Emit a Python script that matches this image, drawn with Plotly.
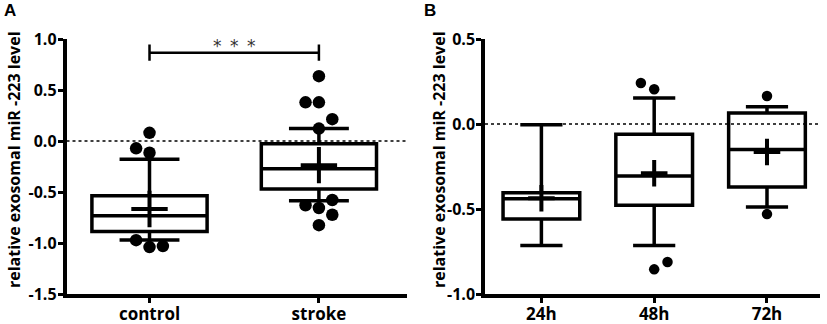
import plotly.graph_objects as go

# ---------------- data ----------------
# Panel A
a_categories = ["control", "stroke"]
a_q1 = [-0.888, -0.470]
a_median = [-0.733, -0.273]
a_q3 = [-0.536, -0.026]
a_lower = [-0.970, -0.585]
a_upper = [-0.180, 0.122]
a_mean = [-0.667, -0.237]
a_pts_cat = [0, 0, 0, 0, 0, 0, 1, 1, 1, 1, 1, 1, 1, 1, 1, 1]
a_pts_val = [0.080, -0.072, -0.115, -0.972, -1.040, -1.030,
             0.636, 0.379, 0.379, 0.214, 0.122, -0.630, -0.657, -0.578, -0.723, -0.825]
a_pts_col = [0, -1, 0, -1, 0, 1,
             0, -1, 0, 1, 0, -1, 0, 1, 1, 0]
a_yticks = [1.0, 0.5, 0.0, -0.5, -1.0, -1.5]
a_sig_text = "* * *"

# Panel B
b_categories = ["24h", "48h", "72h"]
b_q1 = [-0.559, -0.478, -0.370]
b_median = [-0.440, -0.306, -0.150]
b_q3 = [-0.404, -0.061, 0.064]
b_lower = [-0.714, -0.714, -0.488]
b_upper = [-0.004, 0.153, 0.102]
b_mean = [-0.437, -0.290, -0.165]
b_pts_cat = [1, 1, 1, 1, 2, 2]
b_pts_val = [0.241, 0.204, -0.855, -0.812, 0.165, -0.530]
b_pts_col = [-1, 0, 0, 1, 0, 0]
b_yticks = [0.5, 0.0, -0.5, -1.0]

y_title = "relative exosomal miR -223 level"

# ---------------- styling ----------------
FONT = "Open Sans"
LW = 3.5
W, H = 827, 324
top_px, bot_px = 39, 294
ydom = [1 - bot_px / H, 1 - top_px / H]
xdomA = [66.5 / W, 407 / W]
xdomB = [485 / W, 820 / W]

fig = go.Figure()


def add_panel(xa, ya, q1, med, q3, lo, up, mean, pc, pv, pcol, dx, plus_size, dot_size, bw, ww):
    n = len(q1)
    fig.add_trace(go.Box(
        x=list(range(n)), q1=q1, median=med, q3=q3, lowerfence=lo, upperfence=up,
        width=bw, whiskerwidth=ww, fillcolor="rgba(255,255,255,0)",
        line=dict(color="black", width=LW), boxpoints=False, showlegend=False,
        xaxis=xa, yaxis=ya, hoverinfo="skip"))
    fig.add_trace(go.Scatter(
        x=list(range(n)), y=mean, mode="markers", showlegend=False,
        marker=dict(symbol="cross-thin", size=plus_size, color="black",
                    line=dict(color="black", width=LW + 0.5)),
        xaxis=xa, yaxis=ya, hoverinfo="skip"))
    fig.add_trace(go.Scatter(
        x=[c + k * dx for c, k in zip(pc, pcol)], y=pv, mode="markers", showlegend=False,
        marker=dict(symbol="circle", size=dot_size, color="black"),
        xaxis=xa, yaxis=ya, hoverinfo="skip"))


add_panel("x", "y", a_q1, a_median, a_q3, a_lower, a_upper, a_mean,
          a_pts_cat, a_pts_val, a_pts_col, 0.079, 26, 12.5, 0.68, 0.52)
add_panel("x2", "y2", b_q1, b_median, b_q3, b_lower, b_upper, b_mean,
          b_pts_cat, b_pts_val, b_pts_col, 0.118, 19, 10.5, 0.68, 0.55)

# significance bracket (panel A)
sig_level = 0.866
sig_cap = 0.08
fig.add_trace(go.Scatter(
    x=[0, 0, None, 0, 1, None, 1, 1],
    y=[sig_level - sig_cap, sig_level + sig_cap, None, sig_level, sig_level, None,
       sig_level - sig_cap, sig_level + sig_cap],
    mode="lines", line=dict(color="black", width=2.5), showlegend=False,
    xaxis="x", yaxis="y", hoverinfo="skip"))
fig.add_annotation(x=0.5, y=sig_level, xref="x", yref="y",
                   text=a_sig_text.replace(" ", "\u2002"),
                   showarrow=False, yanchor="middle", yshift=7,
                   font=dict(family="DejaVu Sans", size=17, color="#333333"))

# zero reference lines
for xr, yr in [("x domain", "y"), ("x2 domain", "y2")]:
    fig.add_shape(type="line", xref=xr, yref=yr, x0=0, x1=1, y0=0, y1=0,
                  line=dict(color="black", width=1.3, dash="dot"), layer="above")

axis_common = dict(showline=True, linecolor="black", linewidth=LW, ticks="outside",
                   tickcolor="black", tickwidth=3, ticklen=5, showgrid=False,
                   zeroline=False, automargin=False)
xfont = dict(family=FONT, size=17, color="black", weight=700)
yfont = dict(family=FONT, size=16, color="black", weight=700)

fig.update_layout(
    template="none",
    width=W, height=H, margin=dict(l=0, r=0, t=0, b=0, pad=0), autosize=False,
    paper_bgcolor="white", plot_bgcolor="white", showlegend=False,
    xaxis=dict(domain=xdomA, range=[-0.49, 1.52], tickvals=[0, 1], ticktext=a_categories,
               anchor="y", ticklabelstandoff=-3, tickfont=xfont, **axis_common),
    yaxis=dict(domain=ydom, range=[-1.5, 1.0], tickvals=a_yticks,
               ticktext=[f"{v:.1f}" for v in a_yticks], anchor="x",
               ticklabelstandoff=-2, tickfont=yfont, **axis_common),
    xaxis2=dict(domain=xdomB, range=[-0.50, 2.47], tickvals=[0, 1, 2], ticktext=b_categories,
                anchor="y2", ticklabelstandoff=-3, tickfont=xfont, **axis_common),
    yaxis2=dict(domain=ydom, range=[-1.0, 0.5], tickvals=b_yticks,
                ticktext=[f"{v:.1f}" for v in b_yticks], anchor="x2",
                ticklabelstandoff=-2, tickfont=yfont, **axis_common),
)

# y titles and panel labels
for xc, lab, lx in [(14, "A", 10), (439, "B", 430)]:
    fig.add_annotation(x=xc / W, y=1 - 160 / H, xref="paper", yref="paper",
                       text=y_title, textangle=-90, showarrow=False,
                       xanchor="center", yanchor="middle",
                       font=dict(family=FONT, size=16, color="black", weight=700))
    fig.add_annotation(x=lx / W, y=1 - 10 / H, xref="paper", yref="paper",
                       text=lab, showarrow=False, xanchor="center", yanchor="middle",
                       font=dict(family="Liberation Sans", size=17, color="black", weight=700))

fig.write_html("out.html", config={"displayModeBar": False},
               post_script="document.body.style.margin='0';document.body.style.overflow='hidden';")
